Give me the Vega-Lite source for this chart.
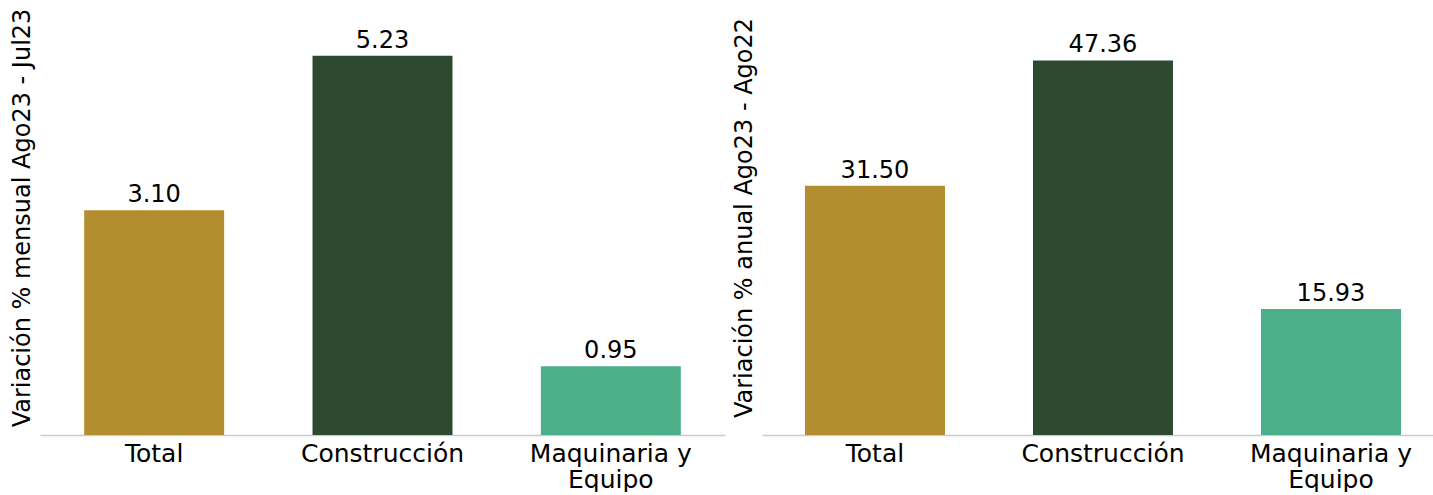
{
  "$schema": "https://vega.github.io/schema/vega-lite/v6.json",
  "padding": {"left": 10, "top": 0, "right": 0, "bottom": 0},
  "background": "white",
  "spacing": 7,
  "config": {
    "view": {"stroke": null},
    "font": "DejaVu Sans",
    "axis": {"grid": false}
  },
  "datasets": {
    "mensual": [
      {"cat": "Total", "valor": 3.10},
      {"cat": "Construcción", "valor": 5.23},
      {"cat": "Maquinaria y Equipo", "valor": 0.95}
    ],
    "anual": [
      {"cat": "Total", "valor": 31.50},
      {"cat": "Construcción", "valor": 47.36},
      {"cat": "Maquinaria y Equipo", "valor": 15.93}
    ]
  },
  "hconcat": [
    {
      "width": 685,
      "height": 435,
      "data": {"name": "mensual"},
      "encoding": {
        "x": {
          "field": "cat", "type": "nominal", "sort": null,
          "scale": {"paddingInner": 0.387, "paddingOuter": 0.1935},
          "axis": {
            "title": null, "labelAngle": 0, "ticks": false, "labelPadding": 6,
            "labelFontSize": 25, "labelColor": "#000", "labelFont": "DejaVu Sans",
            "domainColor": "#cccccc", "domainWidth": 1.5,
            "labelExpr": "datum.label == 'Maquinaria y Equipo' ? ['Maquinaria y', 'Equipo'] : datum.label",
            "labelLineHeight": 26
          }
        },
        "y": {
          "field": "valor", "type": "quantitative",
          "scale": {"domain": [0, 6], "nice": false},
          "axis": {
            "title": "Variación % mensual Ago23 - Jul23",
            "labels": false, "ticks": false, "domain": false, "grid": false,
            "titleFontSize": 24, "titleFontWeight": "normal", "titleColor": "#000",
            "titlePadding": 6
          }
        }
      },
      "layer": [
        {
          "mark": {"type": "bar"},
          "encoding": {
            "color": {
              "field": "cat", "type": "nominal", "legend": null,
              "scale": {"domain": ["Total", "Construcción", "Maquinaria y Equipo"], "range": ["#b38e30", "#2d4a30", "#4baf8a"]}
            }
          }
        },
        {
          "mark": {"type": "text", "baseline": "bottom", "dy": -3, "fontSize": 24, "color": "#000"},
          "encoding": {"text": {"field": "valor", "type": "quantitative", "format": ".2f"}}
        }
      ]
    },
    {
      "width": 671,
      "height": 435,
      "data": {"name": "anual"},
      "encoding": {
        "x": {
          "field": "cat", "type": "nominal", "sort": null,
          "scale": {"paddingInner": 0.386, "paddingOuter": 0.1645, "align": 0.573},
          "axis": {
            "title": null, "labelAngle": 0, "ticks": false, "labelPadding": 6,
            "labelFontSize": 25, "labelColor": "#000", "labelFont": "DejaVu Sans",
            "domainColor": "#cccccc", "domainWidth": 1.5,
            "labelExpr": "datum.label == 'Maquinaria y Equipo' ? ['Maquinaria y', 'Equipo'] : datum.label",
            "labelLineHeight": 26
          }
        },
        "y": {
          "field": "valor", "type": "quantitative",
          "scale": {"domain": [0, 55], "nice": false},
          "axis": {
            "title": "Variación % anual Ago23 - Ago22",
            "labels": false, "ticks": false, "domain": false, "grid": false,
            "titleFontSize": 24, "titleFontWeight": "normal", "titleColor": "#000",
            "titlePadding": 6
          }
        }
      },
      "layer": [
        {
          "mark": {"type": "bar"},
          "encoding": {
            "color": {
              "field": "cat", "type": "nominal", "legend": null,
              "scale": {"domain": ["Total", "Construcción", "Maquinaria y Equipo"], "range": ["#b38e30", "#2d4a30", "#4baf8a"]}
            }
          }
        },
        {
          "mark": {"type": "text", "baseline": "bottom", "dy": -3, "fontSize": 24, "color": "#000"},
          "encoding": {"text": {"field": "valor", "type": "quantitative", "format": ".2f"}}
        }
      ]
    }
  ]
}
